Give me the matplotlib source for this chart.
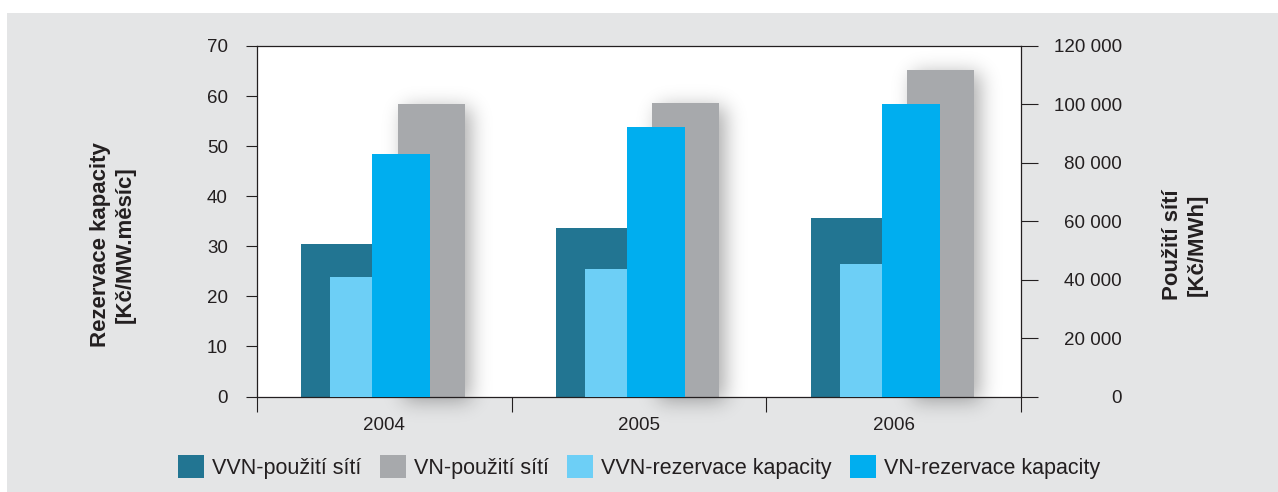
import matplotlib
matplotlib.use('Agg')
import matplotlib.pyplot as plt
from matplotlib.patches import Rectangle
from matplotlib.ticker import FuncFormatter, MultipleLocator
import numpy as np
from math import erf, sqrt

plt.rcParams['font.family'] = ['Liberation Sans', 'DejaVu Sans']

# ---- data ----
years = ['2004', '2005', '2006']
vvn_pouziti = [52200, 57700, 61000]        # Kč/MWh (right axis)
vn_pouziti = [100100, 100500, 111800]      # Kč/MWh (right axis)
vvn_rezervace = [23.9, 25.5, 26.5]         # Kč/MW.měsíc (left axis)
vn_rezervace = [48.4, 53.8, 58.4]          # Kč/MW.měsíc (left axis)
series_labels = ['VVN-použití sítí', 'VN-použití sítí',
                 'VVN-rezervace kapacity', 'VN-rezervace kapacity']
colors = ['#227592', '#a7a9ac', '#6dcff6', '#00aeef']
txt = '#231f20'

W, H = 1278, 492
fig = plt.figure(figsize=(W / 100, H / 100), dpi=100)
fig.patch.set_facecolor('white')
fig.add_artist(Rectangle((7 / W, 0), 1 - 7 / W, (H - 13) / H, transform=fig.transFigure,
                         facecolor='#e4e5e6', edgecolor='none', zorder=-10))

ax = fig.add_axes([257 / W, (H - 396.5) / H, (1021 - 257) / W, (396.5 - 46) / H])
ax.set_facecolor('white')
ax2 = ax.twinx()

x = np.arange(len(years))
ax.set_xlim(-0.5, 2.5)
ax.set_ylim(0, 120000)
ax2.set_ylim(0, 70)

# back row (použití sítí, right scale)
ax.bar(x - 0.326, vvn_pouziti, 0.279, align='edge', color=colors[0], lw=0, zorder=2)
gray_bars = ax.bar(x + 0.053, vn_pouziti, 0.263, align='edge', color=colors[1], lw=0, zorder=2)
# front row (rezervace kapacity, left scale)
ax2.bar(x - 0.212, vvn_rezervace, 0.165, align='edge', color=colors[2], lw=0, zorder=2)
ax2.bar(x - 0.047, vn_rezervace, 0.228, align='edge', color=colors[3], lw=0, zorder=2)


def box_profile(t, a, b, s):
    return np.array([0.5 * (erf((v - a) / (sqrt(2) * s)) - erf((v - b) / (sqrt(2) * s))) for v in t])


# soft (gaussian) drop shadow behind the gray bars
inv = ax.transData.inverted()
for r in gray_bars:
    (x0, y0), (x1, y1) = ax.transData.transform(
        [(r.get_x(), 0), (r.get_x() + r.get_width(), r.get_height())])
    dx, dy, sig, peak = 6, -4, 10.0, 0.33
    m = 40
    xs = np.arange(np.floor(x0 - m), np.ceil(x1 + m)) + 0.5
    ys = np.arange(np.floor(y0 - m), np.ceil(y1 + m)) + 0.5
    px = box_profile(xs, x0 + dx, x1 + dx, sig)
    py = box_profile(ys, y0 + dy, y1 + dy, sig)
    alpha = peak * np.outer(py, px)
    img = np.zeros(alpha.shape + (4,))
    img[..., 3] = alpha
    (ex0, ey0), (ex1, ey1) = inv.transform([(xs[0] - 0.5, ys[0] - 0.5), (xs[-1] + 0.5, ys[-1] + 0.5)])
    ax.imshow(img, extent=(ex0, ex1, ey0, ey1), origin='lower', aspect='auto',
              interpolation='bilinear', clip_on=False, zorder=1)

ax.set_xlim(-0.5, 2.5)
ax.set_ylim(0, 120000)

# right axis
ax.yaxis.tick_right()
ax.yaxis.set_major_locator(MultipleLocator(20000))
ax.yaxis.set_major_formatter(FuncFormatter(lambda v, p: f"{v:,.0f}".replace(',', ' ')))
ax.tick_params(axis='y', which='major', direction='out', length=12.2, width=0.8,
               color=txt, pad=60.5, labelsize=13.5, labelcolor=txt)
for lab in ax.get_yticklabels(which='major'):
    lab.set_horizontalalignment('right')

# left axis
ax2.yaxis.tick_left()
ax2.yaxis.set_major_locator(MultipleLocator(10))
ax2.tick_params(axis='y', which='major', direction='out', length=7.9, width=0.8,
                color=txt, pad=13, labelsize=13.5, labelcolor=txt)

# x axis
ax.set_xticks([-0.5, 0.5, 1.5, 2.5])
ax.set_xticks(x, years, minor=True)
ax.tick_params(axis='x', which='major', length=10.8, width=0.8, color=txt, labelbottom=False)
ax.tick_params(axis='x', which='minor', length=0, pad=14.4, labelsize=13.5, labelcolor=txt)

for s in ax.spines.values():
    s.set_color(txt)
    s.set_linewidth(0.9)
    s.set_zorder(3)
for s in ax2.spines.values():
    s.set_visible(False)

fig.text(113 / W, 1 - 244.5 / H, 'Rezervace kapacity\n[Kč/MW.měsíc]', rotation=90,
         ha='center', va='center', multialignment='center', fontsize=16,
         fontweight='bold', linespacing=1.25, color=txt)
fig.text(1184.5 / W, 1 - 245 / H, 'Použití sítí\n[Kč/MWh]', rotation=90,
         ha='center', va='center', multialignment='center', fontsize=16,
         fontweight='bold', linespacing=1.25, color=txt)

handles = [Rectangle((0, 0), 1, 1, facecolor=c, edgecolor='none') for c in colors]
fig.legend(handles, series_labels, loc='center left', bbox_to_anchor=(178 / W, 1 - 467 / H),
           ncol=4, frameon=False, fontsize=15.5, handlelength=1.21, handleheight=1.21,
           handletextpad=0.38, columnspacing=0.85, borderpad=0, borderaxespad=0,
           labelcolor=txt)

fig.savefig('out.png', dpi=100)
